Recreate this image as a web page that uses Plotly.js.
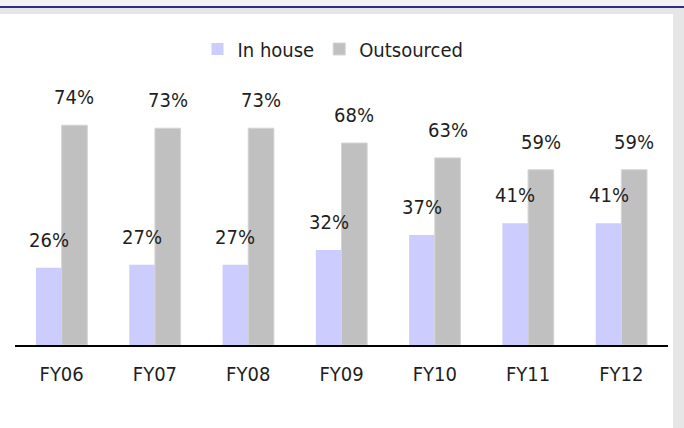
<!DOCTYPE html>
<html>
<head>
<meta charset="utf-8">
<script src="https://cdn.plot.ly/plotly-3.0.1.min.js"></script>
<style>html,body{margin:0;padding:0;background:#fff;}#chart{width:684px;height:428px;}</style>
</head>
<body>
<div id="chart"></div>
<script>
const categories = ["FY06", "FY07", "FY08", "FY09", "FY10", "FY11", "FY12"];
const inHouse = [26, 27, 27, 32, 37, 41, 41];
const outsourced = [74, 73, 73, 68, 63, 59, 59];
const seriesNames = ["In house", "Outsourced"];

const FONT = "'DejaVu Sans Condensed', 'Liberation Sans Narrow', 'Roboto Condensed', 'Noto Sans', sans-serif";
const FS = 20;
const W = 684, H = 428;
const M = {l: 15, r: 16, t: 48, b: 83};
const pw = W - M.l - M.r, ph = H - M.t - M.b;
const px = x => (x - M.l) / pw;
const py = y => (H - M.b - y) / ph;

const traces = [
  {type: "bar", name: seriesNames[0], x: categories, y: inHouse,
   marker: {color: "#ccccff"}, hoverinfo: "skip"},
  {type: "bar", name: seriesNames[1], x: categories, y: outsourced,
   marker: {color: "#c0c0c0", line: {color: "#d4d4d4", width: 1}}, hoverinfo: "skip"}
];

const bargap = 0.45;
const catW = pw / categories.length;
const barW = catW * (1 - bargap) / 2;

const annotations = [];
[[inHouse, -1], [outsourced, 1]].forEach(([vals, side]) => {
  vals.forEach((v, i) => {
    annotations.push({
      x: categories[i], y: v, xref: "x", yref: "y",
      text: v + "%", showarrow: false,
      xshift: side * barW / 2, yshift: 28,
      font: {family: FONT, size: FS, color: "#1e1e1e"}
    });
  });
});

const shapes = [
  {type: "rect", xref: "paper", yref: "paper", layer: "below",
   x0: px(-5), x1: px(W + 5), y0: py(H + 5), y1: py(-5),
   fillcolor: "#e6e6e6", line: {width: 0}},
  {type: "rect", xref: "paper", yref: "paper", layer: "below",
   x0: px(-5), x1: px(W + 5), y0: py(7), y1: py(-5),
   fillcolor: "#f2f2f2", line: {width: 0}},
  {type: "rect", xref: "paper", yref: "paper", layer: "below",
   x0: px(-5), x1: px(673), y0: py(H + 5), y1: py(14),
   fillcolor: "#ffffff", line: {width: 0}},
  {type: "line", xref: "paper", yref: "paper", layer: "below",
   x0: px(-5), x1: px(W + 5), y0: py(7), y1: py(7),
   line: {color: "#2e2e8a", width: 2}}
];

const layout = {
  width: W, height: H,
  margin: M,
  paper_bgcolor: "#ffffff",
  plot_bgcolor: "rgba(0,0,0,0)",
  barmode: "group",
  bargap: bargap,
  bargroupgap: 0,
  showlegend: true,
  legend: {orientation: "h", x: px(333), xanchor: "center", y: py(49), yanchor: "middle",
           font: {family: FONT, size: FS, color: "#1e1e1e"},
           bgcolor: "rgba(0,0,0,0)", itemwidth: 30, tracegroupgap: 0},
  xaxis: {type: "category", showline: true, linecolor: "#000", linewidth: 1.5,
          showgrid: false, zeroline: false, ticks: "outside", ticklen: 10,
          tickcolor: "rgba(0,0,0,0)",
          tickfont: {family: FONT, size: FS, color: "#1e1e1e"}},
  yaxis: {range: [0, 100], showgrid: false, zeroline: false, showline: false,
          showticklabels: false, ticks: ""},
  annotations: annotations,
  shapes: shapes
};

Plotly.newPlot("chart", traces, layout, {displayModeBar: false, staticPlot: true});
</script>
</body>
</html>
